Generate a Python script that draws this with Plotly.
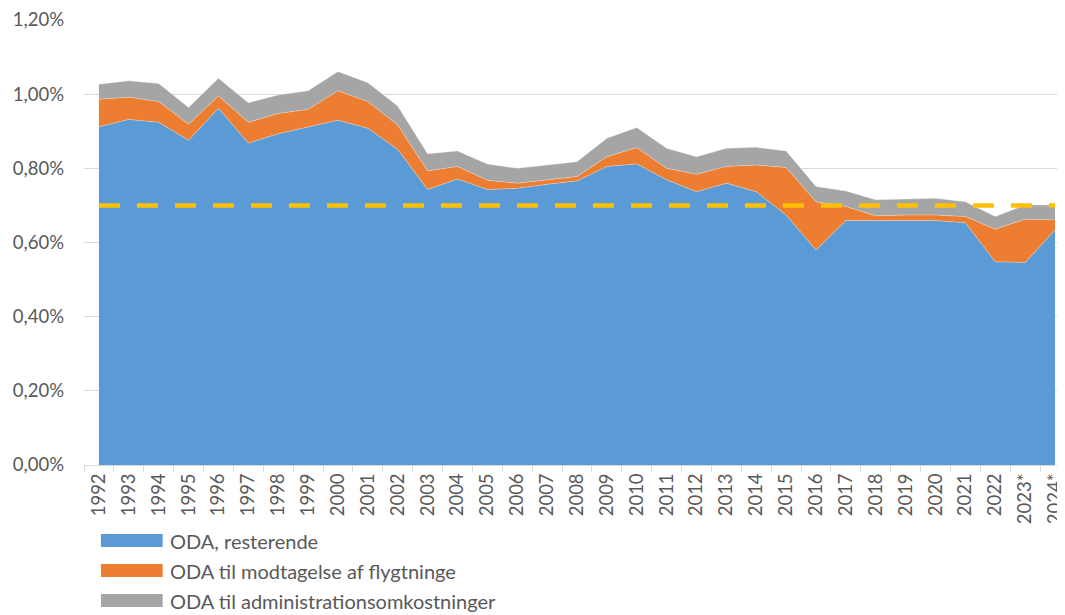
import plotly.graph_objects as go

years = ["1992","1993","1994","1995","1996","1997","1998","1999","2000","2001","2002",
         "2003","2004","2005","2006","2007","2008","2009","2010","2011","2012","2013",
         "2014","2015","2016","2017","2018","2019","2020","2021","2022","2023*","2024*"]

oda_rest = [0.912,0.932,0.924,0.876,0.962,0.868,0.893,0.912,0.930,0.908,0.851,
            0.743,0.771,0.743,0.746,0.757,0.766,0.805,0.812,0.769,0.737,0.760,
            0.737,0.674,0.580,0.659,0.658,0.659,0.659,0.653,0.548,0.546,0.634]
oda_refugees = [0.074,0.060,0.056,0.043,0.033,0.056,0.055,0.047,0.079,0.072,0.066,
                0.050,0.034,0.025,0.014,0.012,0.012,0.026,0.044,0.031,0.047,0.045,
                0.072,0.128,0.130,0.038,0.014,0.015,0.015,0.017,0.088,0.117,0.027]
oda_admin = [0.041,0.044,0.049,0.045,0.048,0.053,0.050,0.050,0.052,0.051,0.051,
             0.046,0.042,0.044,0.040,0.040,0.040,0.050,0.054,0.054,0.047,0.049,
             0.048,0.045,0.041,0.042,0.043,0.043,0.045,0.040,0.034,0.038,0.040]
target = [0.70] * len(years)

series_names = ["ODA, resterende", "ODA til modtagelse af flygtninge",
                "ODA til administrationsomkostninger"]
colors = ["#5B9BD5", "#ED7D31", "#A5A5A5"]

FONT = "Lato"
TXT = "#595959"

fig = go.Figure()
for name, vals, col in zip(series_names, [oda_rest, oda_refugees, oda_admin], colors):
    fig.add_trace(go.Scatter(
        x=years, y=vals, name=name, mode="lines", stackgroup="one",
        line=dict(width=0.6, color="rgba(255,255,255,0.5)"), fillcolor=col,
        showlegend=False))

fig.add_trace(go.Scatter(
    x=years, y=target, mode="lines", showlegend=False,
    line=dict(color="#FFC000", width=4.5, dash="21px,17px")))

# the page has an 8px body margin, so the figure is sized to fit inside the window
OFF = 8
W, H = 1065 - OFF, 615 - OFF
ml, mr, mt, mb = 84 - OFF, 0, 20 - OFF, 150
pw = W - ml - mr
ph = H - mt - mb

def px2paper_x(px):  # px given in page coordinates
    return (px - 84) / pw

def px2paper_y(py):
    return (465 - py) / ph

shapes = []
annotations = []
legend_y = [540.5, 570.5, 600.5]
for name, col, cy in zip(series_names, colors, legend_y):
    shapes.append(dict(type="rect", xref="paper", yref="paper",
                       x0=px2paper_x(101), x1=px2paper_x(163),
                       y0=px2paper_y(cy + 6.5), y1=px2paper_y(cy - 6.5),
                       fillcolor=col, line=dict(width=0)))
    annotations.append(dict(xref="paper", yref="paper", x=px2paper_x(168),
                            y=px2paper_y(cy), text=name, showarrow=False,
                            xanchor="left", yanchor="middle",
                            font=dict(family=FONT, size=20, color=TXT)))

fig.update_layout(
    width=W, height=H,
    margin=dict(l=ml, r=mr, t=mt, b=mb),
    plot_bgcolor="white", paper_bgcolor="white",
    separators=",.",
    font=dict(family=FONT, color=TXT),
    shapes=shapes, annotations=annotations,
    showlegend=False,
)
fig.update_xaxes(
    type="category", range=[-0.5, 32.2], tickson="boundaries",
    ticks="outside", ticklen=6, tickcolor="#D9D9D9",
    showline=True, linecolor="#D9D9D9", linewidth=1,
    showgrid=False, tickangle=-90,
    tickfont=dict(family=FONT, size=18.5, color=TXT))
fig.update_yaxes(
    range=[0, 1.2], dtick=0.2, tickformat=".2f", ticksuffix="%",
    showgrid=True, gridcolor="#D9D9D9", gridwidth=1, zeroline=False,
    showline=False, ticklabelstandoff=19,
    tickfont=dict(family=FONT, size=18.5, color=TXT))

fig.write_html("out.html")
